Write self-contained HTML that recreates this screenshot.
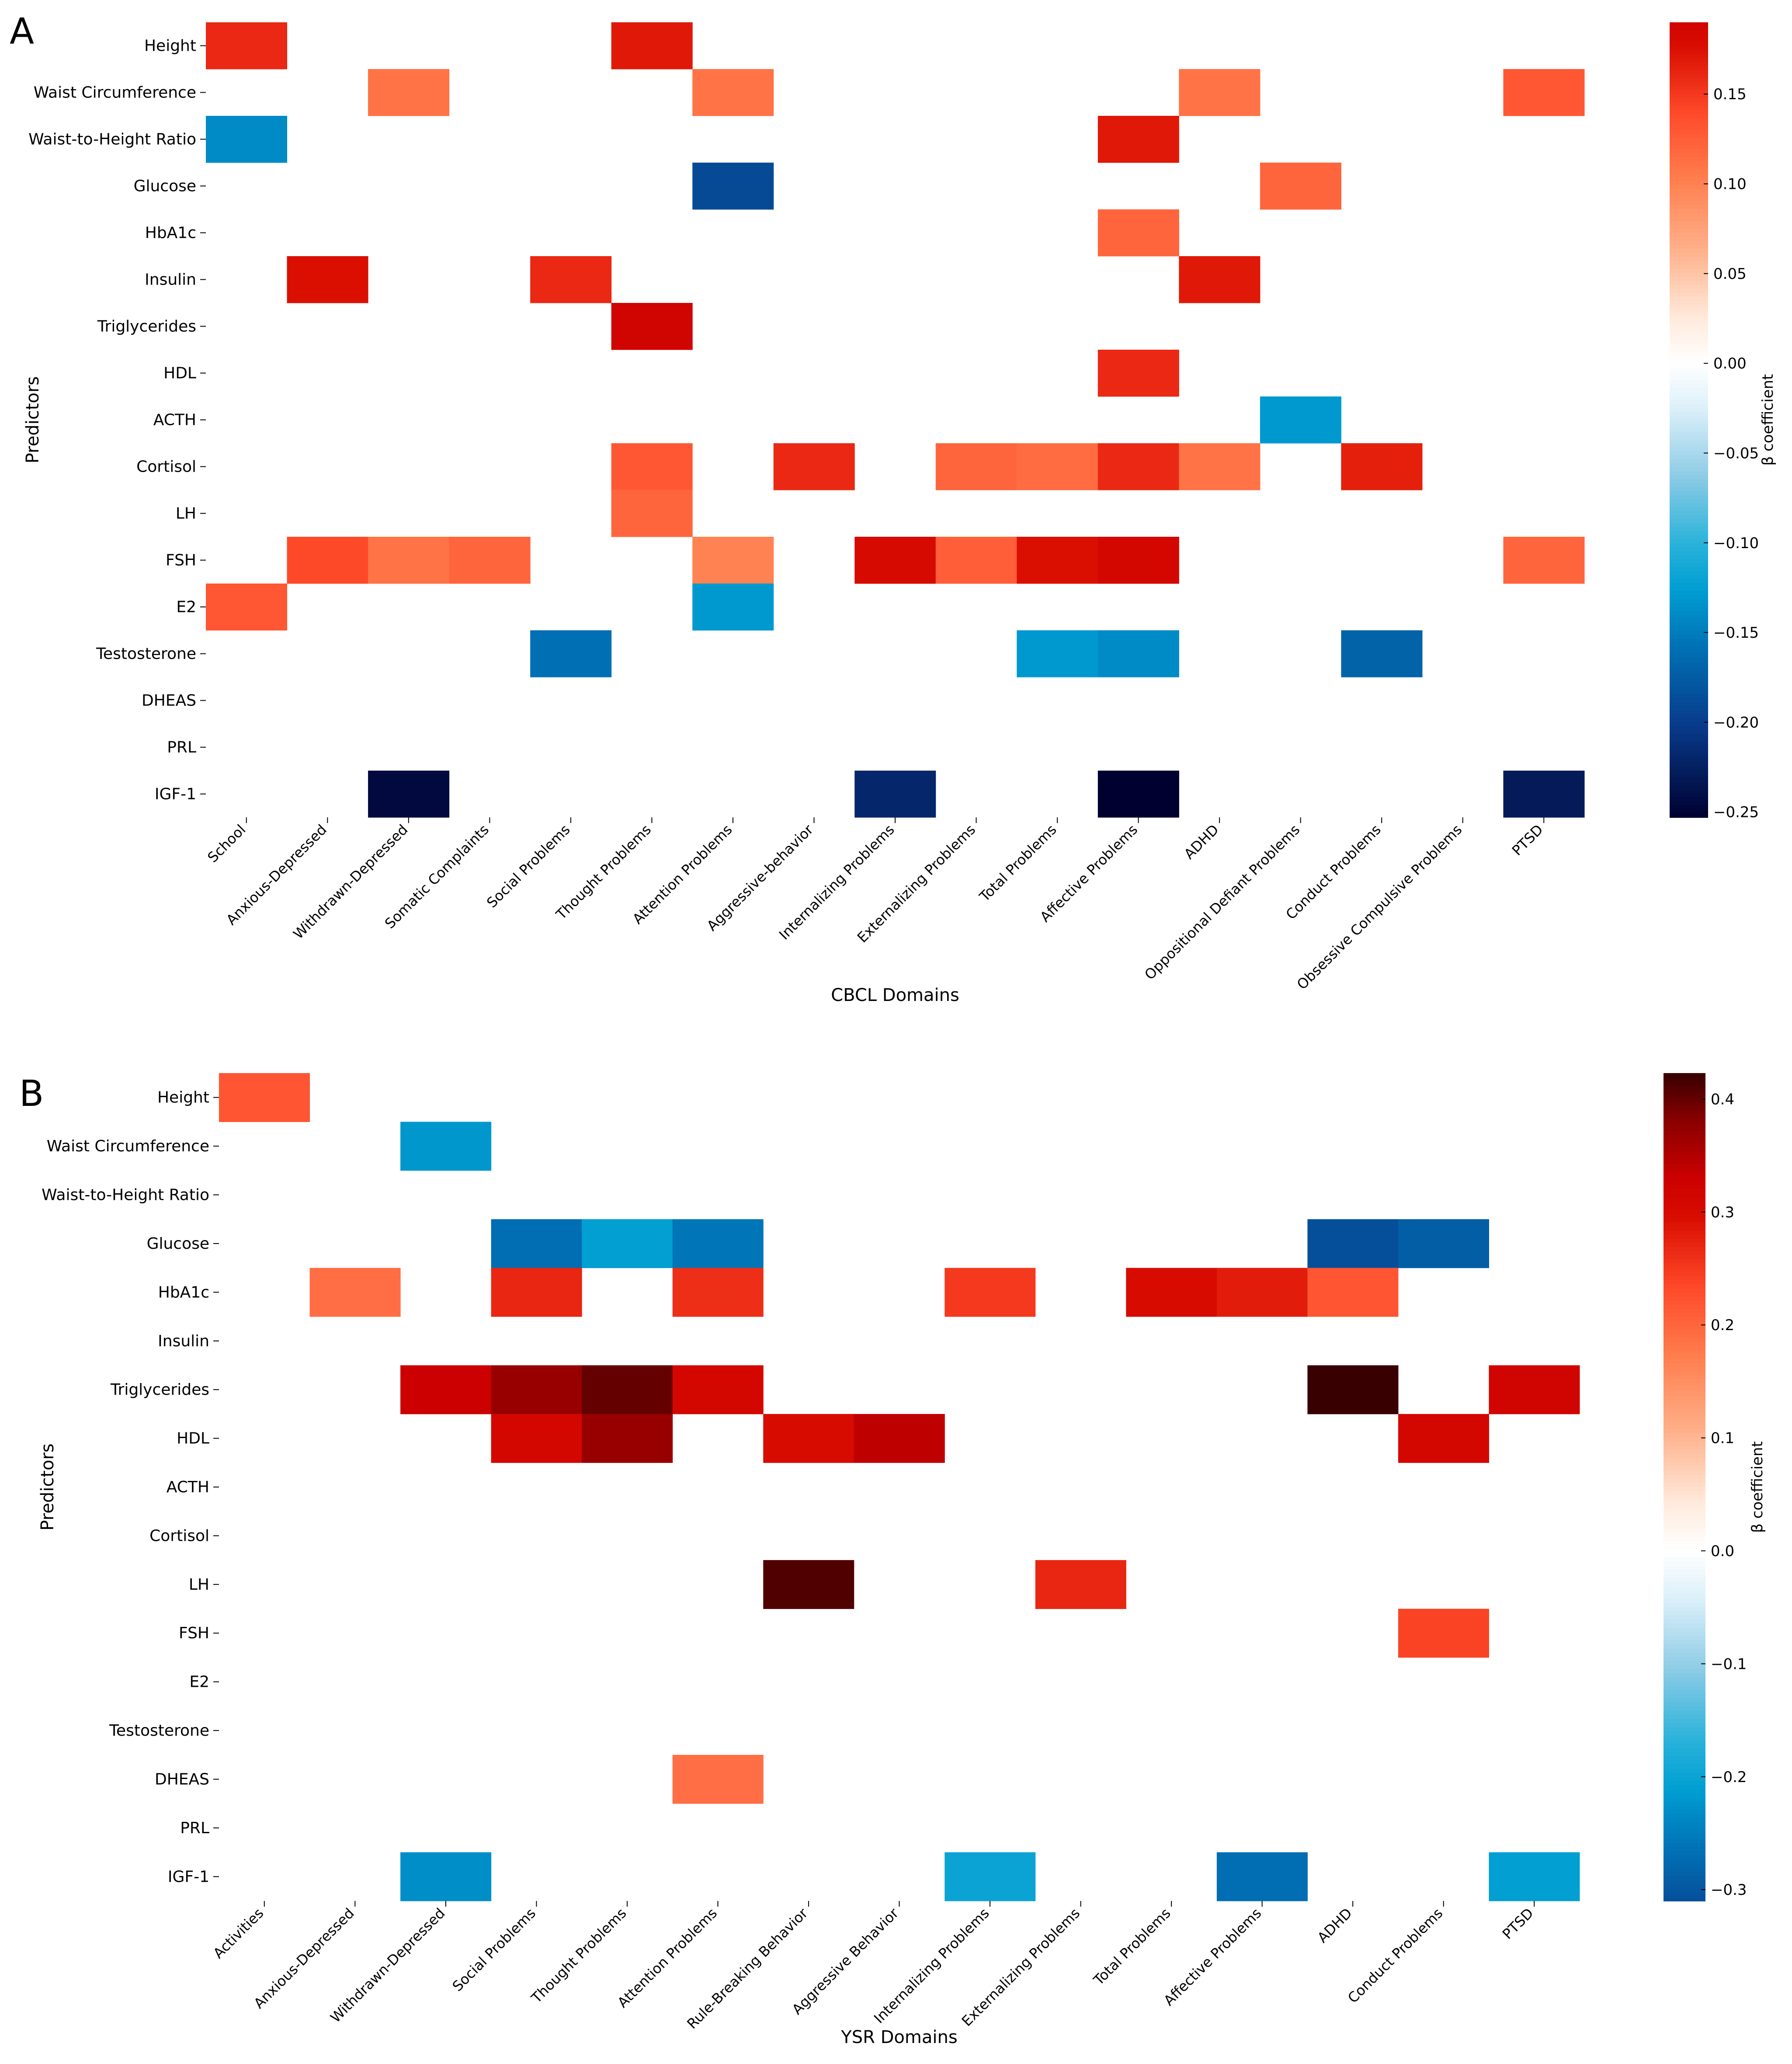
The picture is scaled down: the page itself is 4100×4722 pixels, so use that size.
<!DOCTYPE html>
<html><head><meta charset="utf-8"><style>
html,body{margin:0;padding:0;background:#fff}
svg{display:block}
text{font-family:"DejaVu Sans","Liberation Sans",sans-serif;fill:#000}
</style></head><body>
<svg id="chart" width="4100" height="4722" viewBox="0 0 4100 4722" xmlns="http://www.w3.org/2000/svg">
<text x="22" y="100" font-size="82">A</text>
<text x="44" y="2530" font-size="82">B</text>
<g id="pa"></g>
<g id="pb"></g>
</svg>
<script>
const rowsA = ["Height","Waist Circumference","Waist-to-Height Ratio","Glucose","HbA1c","Insulin","Triglycerides","HDL","ACTH","Cortisol","LH","FSH","E2","Testosterone","DHEAS","PRL","IGF-1"];
const colsA = ["School","Anxious-Depressed","Withdrawn-Depressed","Somatic Complaints","Social Problems","Thought Problems","Attention Problems","Aggressive-behavior","Internalizing Problems","Externalizing Problems","Total Problems","Affective Problems","ADHD","Oppositional Defiant Problems","Conduct Problems","Obsessive Compulsive Problems","PTSD"];
// [row, col, beta]
const cellsA = [
[0,0,0.16],[0,5,0.17],
[1,2,0.11],[1,6,0.11],[1,12,0.11],[1,16,0.13],
[2,0,-0.14],[2,11,0.17],
[3,6,-0.19],[3,13,0.12],
[4,11,0.12],
[5,1,0.175],[5,4,0.16],[5,12,0.17],
[6,5,0.19],
[7,11,0.16],
[8,13,-0.13],
[9,5,0.13],[9,7,0.16],[9,9,0.12],[9,10,0.115],[9,11,0.16],[9,12,0.11],[9,14,0.165],
[10,5,0.12],
[11,1,0.14],[11,2,0.11],[11,3,0.12],[11,6,0.10],[11,8,0.18],[11,9,0.125],[11,10,0.175],[11,11,0.185],[11,16,0.12],
[12,0,0.13],[12,6,-0.13],
[13,4,-0.16],[13,10,-0.13],[13,11,-0.14],[13,14,-0.17],
[16,2,-0.245],[16,8,-0.22],[16,11,-0.253],[16,16,-0.23]
];
const ticksA = [-0.25,-0.20,-0.15,-0.10,-0.05,0.00,0.05,0.10,0.15];
const tickLabelsA = ["\u22120.25","\u22120.20","\u22120.15","\u22120.10","\u22120.05","0.00","0.05","0.10","0.15"];

const rowsB = rowsA.slice();
const colsB = ["Activities","Anxious-Depressed","Withdrawn-Depressed","Social Problems","Thought Problems","Attention Problems","Rule-Breaking Behavior","Aggressive Behavior","Internalizing Problems","Externalizing Problems","Total Problems","Affective Problems","ADHD","Conduct Problems","PTSD"];
const cellsB = [
[0,0,0.22],
[1,2,-0.22],
[3,3,-0.27],[3,4,-0.21],[3,5,-0.26],[3,12,-0.31],[3,13,-0.29],
[4,1,0.19],[4,3,0.27],[4,5,0.26],[4,8,0.25],[4,10,0.30],[4,11,0.28],[4,12,0.22],
[6,2,0.33],[6,3,0.37],[6,4,0.40],[6,5,0.31],[6,12,0.423],[6,14,0.32],
[7,3,0.31],[7,4,0.37],[7,6,0.30],[7,7,0.34],[7,13,0.31],
[10,6,0.41],[10,9,0.27],
[11,13,0.24],
[14,5,0.19],
[16,2,-0.23],[16,8,-0.20],[16,11,-0.27],[16,14,-0.21]
];
const ticksB = [-0.3,-0.2,-0.1,0.0,0.1,0.2,0.3,0.4];
const tickLabelsB = ["\u22120.3","\u22120.2","\u22120.1","0.0","0.1","0.2","0.3","0.4"];

const stops = [[-1,[0,0,48]],[-0.8,[8,58,138]],[-0.62,[0,115,182]],[-0.5,[0,158,210]],[-0.4,[40,178,218]],[-0.25,[140,203,230]],[-0.1,[220,240,250]],[0,[255,255,255]],[0.1,[255,234,220]],[0.25,[255,176,138]],[0.4,[255,128,80]],[0.55,[255,74,42]],[0.7,[216,12,0]],[0.78,[204,0,0]],[0.9,[138,0,0]],[1,[56,0,0]]];
function cmap(t){
  t=Math.max(-1,Math.min(1,t));
  for(let i=1;i<stops.length;i++){
    if(t<=stops[i][0]){
      const a=stops[i-1],b=stops[i],f=(t-a[0])/(b[0]-a[0]);
      const c=a[1].map((v,k)=>Math.round(v+(b[1][k]-v)*f));
      return `rgb(${c[0]},${c[1]},${c[2]})`;
    }
  }
  return 'rgb(56,0,0)';
}
const NS="http://www.w3.org/2000/svg";
function mk(tag,attrs,parent){const e=document.createElementNS(NS,tag);for(const k in attrs)e.setAttribute(k,attrs[k]);parent.appendChild(e);return e;}

function drawPanel(g,rows,cols,cells,ticks,tickLabels,L,xTitle){
  const vals=cells.map(c=>c[2]);
  const vmin=Math.min(...vals), vmax=Math.max(...vals);
  const vabs=Math.max(Math.abs(vmin),Math.abs(vmax));
  const cw=(L.x1-L.x0)/cols.length, rh=(L.y1-L.y0)/rows.length;
  const xS=i=>L.x0+i*cw, yS=j=>L.y0+j*rh;
  cells.forEach(c=>{
    const r=mk('rect',{x:xS(c[1]),y:yS(c[0]),width:cw+0.5,height:rh+0.5,fill:cmap(c[2]/vabs)},g);
    
    
  });
  rows.forEach((name,j)=>{
    const cy=yS(j)+rh/2;
    mk('line',{x1:L.x0-13,x2:L.x0,y1:cy,y2:cy,stroke:'#000','stroke-width':2},g);
    const t=mk('text',{x:L.x0-22,y:cy+12,'font-size':36,'text-anchor':'end'},g);
    t.textContent=name;
    
    
  });
  cols.forEach((name,i)=>{
    const cx=xS(i)+cw/2;
    mk('line',{x1:cx,x2:cx,y1:L.y1,y2:L.y1+13,stroke:'#000','stroke-width':2},g);
    const t=mk('text',{x:cx,y:L.y1+30,'font-size':32,'text-anchor':'end',transform:`rotate(-45 ${cx} ${L.y1+30})`},g);
    t.textContent=name;
    
    
  });
  const xt=mk('text',{x:(L.x0+L.x1)/2,y:L.xTitleY,'font-size':40,'text-anchor':'middle'},g);
  xt.textContent=xTitle;
  
  
  const yt=mk('text',{x:L.yTitleX,y:(L.y0+L.y1)/2,'font-size':40,'text-anchor':'middle',transform:`rotate(-90 ${L.yTitleX} ${(L.y0+L.y1)/2})`},g);
  yt.textContent='Predictors';
  
  
  const cbY=v=>L.y0+(vmax-v)/(vmax-vmin)*(L.y1-L.y0);
  const n=200;
  for(let k=0;k<n;k++){
    const v=vmax-(k+0.5)/n*(vmax-vmin);
    const r=mk('rect',{x:L.cb0,y:L.y0+k*(L.y1-L.y0)/n,width:L.cb1-L.cb0,height:(L.y1-L.y0)/n+1,fill:cmap(v/vabs)},g);
    
    
  }
  ticks.forEach((v,k)=>{
    const y=cbY(v);
    mk('line',{x1:L.cb1-10,x2:L.cb1,y1:y,y2:y,stroke:'#000','stroke-width':2},g);
    const t=mk('text',{x:L.cb1+12,y:y+12,'font-size':34},g);
    t.textContent=tickLabels[k];
    
    
  });
  const ct=mk('text',{x:L.cbTitleX,y:(L.y0+L.y1)/2,'font-size':34,'text-anchor':'middle',transform:`rotate(-90 ${L.cbTitleX} ${(L.y0+L.y1)/2})`},g);
  ct.textContent='\u03b2 coefficient';
  
  
}
drawPanel(document.getElementById('pa'),rowsA,colsA,cellsA,ticksA,tickLabelsA,
 {x0:471,x1:3625,y0:51,y1:1870,cb0:3820,cb1:3908,xTitleY:2290,yTitleX:88,cbTitleX:4056},'CBCL Domains');
drawPanel(document.getElementById('pb'),rowsB,colsB,cellsB,ticksB,tickLabelsB,
 {x0:501,x1:3614,y0:2455,y1:4349,cb0:3806,cb1:3902,xTitleY:4674,yTitleX:122,cbTitleX:4032},'YSR Domains');
</script>
</body></html>
